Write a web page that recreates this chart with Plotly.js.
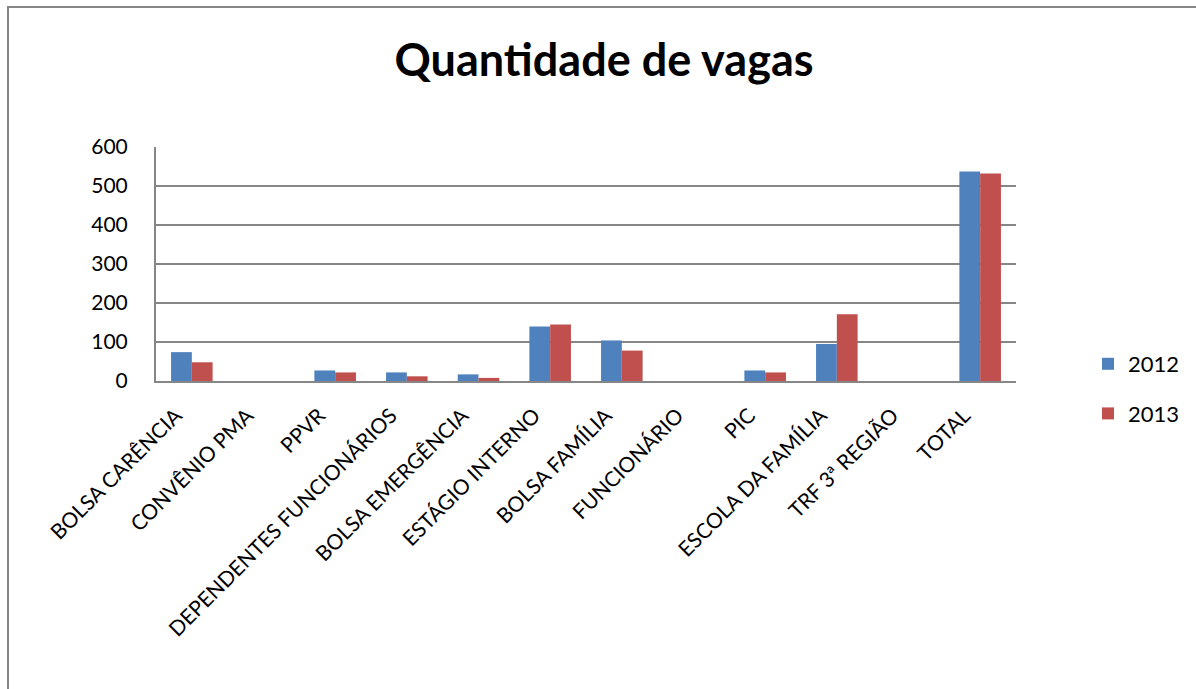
<!DOCTYPE html>
<html>
<head>
<meta charset="utf-8">
<script src="https://cdn.plot.ly/plotly-3.0.1.min.js"></script>
<style>html,body{margin:0;padding:0;background:#fff;}#chart{width:1196px;height:689px;}</style>
</head>
<body>
<div id="chart"></div>
<script>
const categories = ["BOLSA CARÊNCIA","CONVÊNIO PMA","PPVR","DEPENDENTES FUNCIONÁRIOS","BOLSA EMERGÊNCIA","ESTÁGIO INTERNO","BOLSA FAMÍLIA","FUNCIONÁRIO","PIC","ESCOLA DA FAMÍLIA","TRF 3ª REGIÃO","TOTAL"];
const values2012 = [74, 0, 27, 22, 17, 140, 104, 0, 27, 95, 0, 537];
const values2013 = [48, 0, 22, 12, 8, 145, 78, 0, 22, 171, 0, 532];
const seriesNames = ["2012", "2013"];
const yTicks = [0, 100, 200, 300, 400, 500, 600];

const W = 1196, H = 689;
const L = 156, R = 1016, T = 147, B = 381;
const pw = R - L, ph = B - T;
const font = "Lato, 'Open Sans', sans-serif";

const traces = [
  {type: "bar", name: seriesNames[0], x: categories, y: values2012, marker: {color: "#4F81BD"}, legendgroup: "a"},
  {type: "bar", name: seriesNames[1], x: categories, y: values2013, marker: {color: "#C0504D"}, legendgroup: "b"}
];

const layout = {
  width: W, height: H,
  margin: {l: L, r: W - R, t: T, b: H - B, pad: 0, autoexpand: false},
  paper_bgcolor: "#fff", plot_bgcolor: "#fff",
  font: {family: font, color: "#000", size: 20},
  title: {text: "<b>Quantidade de vagas</b>", font: {family: font, size: 45, color: "#000"},
          x: 604 / W, xanchor: "center", y: 1 - 60 / H, yanchor: "middle", xref: "container", yref: "container"},
  barmode: "group", bargap: 0.42, bargroupgap: 0,
  xaxis: {type: "category", tickangle: -45, tickfont: {size: 21, family: font}, showline: true,
          linecolor: "#868686", linewidth: 2, ticks: "", showgrid: false, automargin: false, fixedrange: true,
          ticklabelshift: -16, ticklabelstandoff: 12},
  yaxis: {range: [0, 600], tickvals: yTicks, ticktext: yTicks.map(String), tickfont: {size: 21, family: font},
          showgrid: true, gridcolor: "#868686", gridwidth: 2, showline: true, linecolor: "#868686", linewidth: 2,
          ticks: "", ticklabelstandoff: 22, zeroline: false, automargin: false, fixedrange: true},
  showlegend: true,
  legend: {x: (1088 - L) / pw, xanchor: "left", y: (B - 343) / ph, yanchor: "top",
           font: {size: 22, family: font}, tracegroupgap: 18, bgcolor: "rgba(0,0,0,0)"},
  shapes: [{type: "rect", xref: "paper", yref: "paper",
            x0: (8 - L) / pw, x1: (1210 - L) / pw, y0: (B - 700) / ph, y1: (B - 7) / ph,
            line: {color: "#868686", width: 2}, fillcolor: "rgba(0,0,0,0)", layer: "below"}]
};

Plotly.newPlot("chart", traces, layout, {displayModeBar: false, staticPlot: true});
</script>
</body>
</html>
